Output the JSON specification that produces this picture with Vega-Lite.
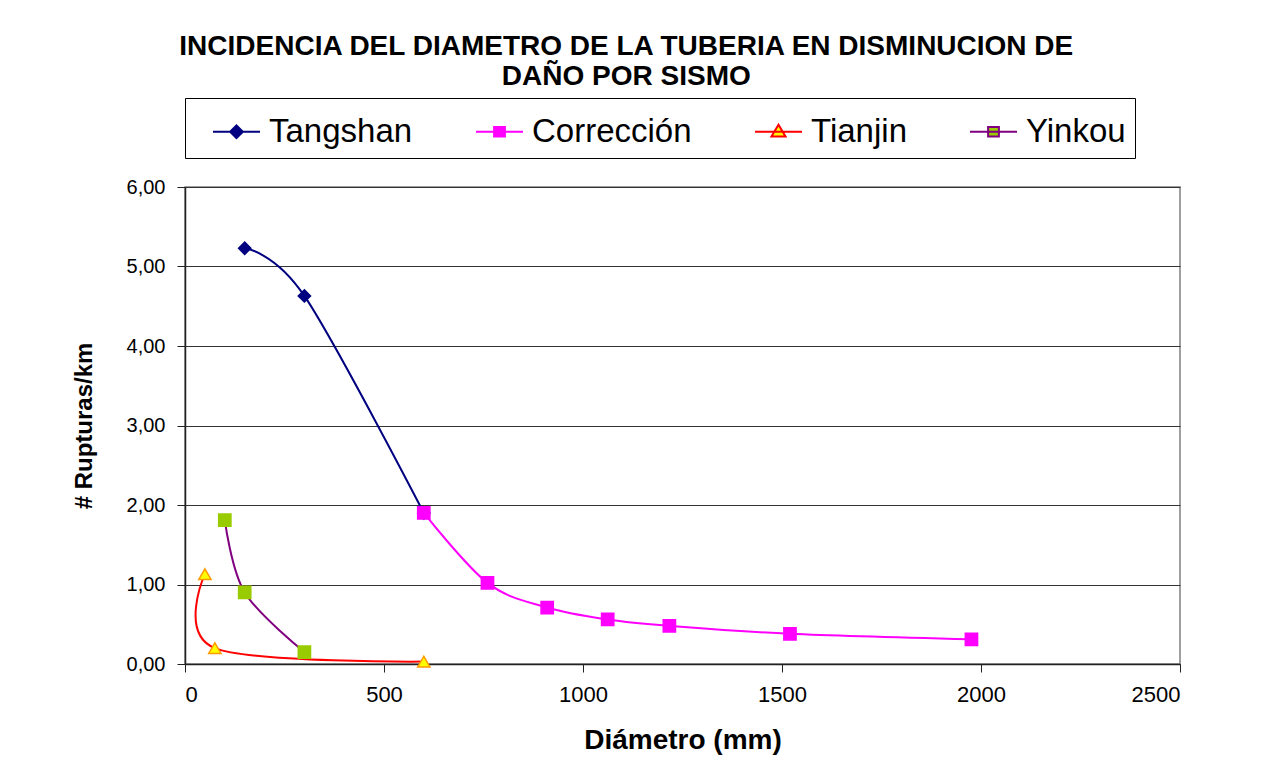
{
  "$schema": "https://vega.github.io/schema/vega-lite/v6.json",
  "autosize": {"type": "none"},
  "width": 995,
  "height": 477,
  "padding": {"left": 185, "top": 187, "right": 106, "bottom": 114},
  "background": "white",
  "title": {
    "text": ["INCIDENCIA DEL DIAMETRO DE LA TUBERIA EN DISMINUCION DE", "DAÑO POR SISMO"],
    "font": "Liberation Sans",
    "fontSize": 28,
    "fontWeight": "bold",
    "lineHeight": 30,
    "color": "black",
    "frame": "bounds",
    "anchor": "middle",
    "offset": 7
  },
  "config": {
    "font": "Liberation Sans",
    "view": {"stroke": "#808080", "strokeWidth": 1.5},
    "axis": {
      "domainColor": "#222",
      "domainWidth": 1.5,
      "tickColor": "#222",
      "tickSize": 8,
      "labelFont": "Liberation Sans",
      "labelColor": "black",
      "titleFont": "Liberation Sans",
      "titleFontWeight": "bold",
      "titleColor": "black",
      "gridColor": "#333",
      "gridWidth": 1
    }
  },
  "data": {
    "values": [
      {"serie": "Tangshan", "d": 150, "r": 5.23},
      {"serie": "Tangshan", "d": 300, "r": 4.63},
      {"serie": "Tangshan", "d": 600, "r": 1.90},
      {"serie": "Corrección", "d": 600, "r": 1.90},
      {"serie": "Corrección", "d": 760, "r": 1.02},
      {"serie": "Corrección", "d": 910, "r": 0.71},
      {"serie": "Corrección", "d": 1062, "r": 0.56},
      {"serie": "Corrección", "d": 1217, "r": 0.48},
      {"serie": "Corrección", "d": 1520, "r": 0.38},
      {"serie": "Corrección", "d": 1976, "r": 0.31},
      {"serie": "Tianjin", "d": 50, "r": 1.13},
      {"serie": "Tianjin", "d": 75, "r": 0.20},
      {"serie": "Tianjin", "d": 600, "r": 0.03},
      {"serie": "Yinkou", "d": 100, "r": 1.81},
      {"serie": "Yinkou", "d": 150, "r": 0.90},
      {"serie": "Yinkou", "d": 300, "r": 0.15}
    ]
  },
  "encoding": {
    "x": {
      "field": "d",
      "type": "quantitative",
      "title": "Diámetro (mm)",
      "scale": {"domain": [0, 2500], "nice": false},
      "axis": {"values": [0, 500, 1000, 1500, 2000, 2500], "format": "d", "grid": false, "labelFontSize": 22, "labelPadding": 12, "titleFontSize": 28, "titlePadding": 21}
    },
    "y": {
      "field": "r",
      "type": "quantitative",
      "title": "# Rupturas/km",
      "scale": {"domain": [0, 6], "nice": false},
      "axis": {"values": [0, 1, 2, 3, 4, 5, 6], "grid": true, "labelFontSize": 20, "labelExpr": "replace(format(datum.value, '.2f'), '.', ',')", "labelPadding": 12, "titleFontSize": 24, "titlePadding": 30}
    }
  },
  "layer": [
    {
      "mark": {"type": "line", "interpolate": "cardinal", "strokeWidth": 2},
      "encoding": {
        "color": {
          "field": "serie",
          "type": "nominal",
          "scale": {"domain": ["Yinkou", "Tianjin", "Corrección", "Tangshan"], "range": ["#800080", "#FF0000", "#FF00FF", "#000080"]},
          "legend": null
        },
        "detail": {"field": "serie"}
      }
    },
    {
      "mark": {"type": "point", "size": 150, "strokeWidth": 1.5, "opacity": 1, "filled": true},
      "encoding": {
        "shape": {
          "field": "serie",
          "type": "nominal",
          "scale": {"domain": ["Yinkou", "Tianjin", "Corrección", "Tangshan"], "range": ["square", "triangle-up", "square", "diamond"]},
          "legend": null
        },
        "fill": {
          "field": "serie",
          "type": "nominal",
          "scale": {"domain": ["Yinkou", "Tianjin", "Corrección", "Tangshan"], "range": ["#99CC00", "#FFFF00", "#FF00FF", "#000080"]},
          "legend": null
        },
        "stroke": {
          "field": "serie",
          "type": "nominal",
          "scale": {"domain": ["Yinkou", "Tianjin", "Corrección", "Tangshan"], "range": ["#99CC00", "#FF9900", "#FF00FF", "#000080"]},
          "legend": null
        }
      }
    },
    {
      "mark": {"type": "point", "size": 10, "opacity": 0, "filled": true},
      "encoding": {
        "shape": {
          "field": "serie",
          "type": "nominal",
          "title": null,
          "scale": {"domain": ["Tangshan", "Corrección", "Tianjin", "Yinkou"], "range": ["M-1,0H1M-0.27,0L0,-0.27L0.27,0L0,0.27Z", "M-1,0H1M-0.23,-0.2H0.23V0.2H-0.23Z", "M-1,0H1M-0.3,0.2L0,-0.3L0.3,0.2Z", "M-1,0H1M-0.23,-0.2H0.23V0.2H-0.23Z"]},
          "legend": {
            "orient": "top",
            "direction": "horizontal",
            "offset": 29,
            "padding": 9,
            "strokeColor": "black",
            "fillColor": "white",
            "symbolSize": 2209,
            "symbolOpacity": 1,
            "symbolOffset": 18,
            "symbolStrokeWidth": 2,
            "labelFont": "Liberation Sans",
            "labelFontSize": 33,
            "labelColor": "black",
            "labelOffset": 8,
            "columnPadding": 44
          }
        },
        "fill": {
          "field": "serie",
          "type": "nominal",
          "title": null,
          "scale": {"domain": ["Tangshan", "Corrección", "Tianjin", "Yinkou"], "range": ["#000080", "#FF00FF", "#FFFF00", "#99CC00"]}
        },
        "stroke": {
          "field": "serie",
          "type": "nominal",
          "title": null,
          "scale": {"domain": ["Tangshan", "Corrección", "Tianjin", "Yinkou"], "range": ["#000080", "#FF00FF", "#FF0000", "#800080"]}
        }
      }
    }
  ],
  "resolve": {"scale": {"shape": "independent", "fill": "independent", "stroke": "independent"}}
}
